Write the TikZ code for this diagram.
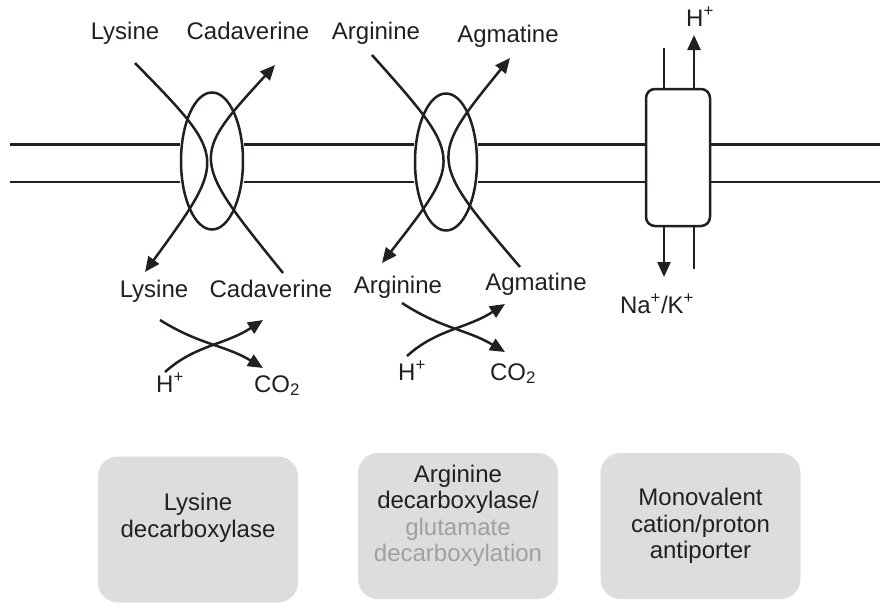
\documentclass[tikz,border=0pt]{standalone}
\usepackage{fontspec}
\setmainfont{Liberation Sans}
\usetikzlibrary{arrows.meta,shapes.geometric}
\definecolor{ink}{HTML}{231F20}
\definecolor{boxgray}{HTML}{DCDDDF}
\definecolor{softtext}{HTML}{A0A0A0}
\begin{document}
\begin{tikzpicture}[x=1pt,y=-1pt,line width=2.5pt,draw=ink,
  lbl/.style={font=\fontsize{24}{28}\selectfont,text=ink,anchor=base,inner sep=0pt},
  arr/.style={-{Triangle[length=15pt,width=13pt]}},
  mem/.style={line width=2.3pt},
  channel/.style={draw,ellipse,minimum width=62pt,minimum height=137pt,inner sep=0pt},
  antiport/.style={draw,rounded corners=9pt,minimum width=64pt,minimum height=137pt,inner sep=0pt},
  card/.style={fill=boxgray,rounded corners=20pt,minimum width=200pt,minimum height=146pt,inner sep=0pt},
  cardtext/.style={align=center,text=ink,font=\fontsize{24}{26.5}\selectfont,inner sep=0pt}]
\useasboundingbox (0,0) rectangle (892,614);

% membrane proteins
\node[channel] (ch1) at (212,161) {};
\node[channel] (ch2) at (446,162) {};
\node[antiport] (ap) at (678,157.5) {};

% membrane lines
\coordinate (yt) at (0,144.5);
\coordinate (yb) at (0,182);
\coordinate (ml) at (10,0);
\coordinate (mr) at (880,0);
\draw[mem] (ml |- yt) -- (ch1.west |- yt);
\draw[mem] (ml |- yb) -- (ch1.west |- yb);
\draw[mem] (ch1.east |- yt) -- (ch2.west |- yt);
\draw[mem] (ch1.east |- yb) -- (ch2.west |- yb);
\draw[mem] (ch2.east |- yt) -- (ap.west |- yt);
\draw[mem] (ch2.east |- yb) -- (ap.west |- yb);
\draw[mem] (ap.east |- yt) -- (mr |- yt);
\draw[mem] (ap.east |- yb) -- (mr |- yb);

% labels around channels
\node[lbl] (lysT) at (125,39) {Lysine};
\node[lbl] (cadT) at (248,39) {Cadaverine};
\node[lbl] (argT) at (376,39) {Arginine};
\node[lbl] (agmT) at (508,42) {Agmatine};
\node[lbl] (lysB) at (154,297) {Lysine};
\node[lbl] (cadB) at (271,297) {Cadaverine};
\node[lbl] (argB) at (398,293) {Arginine};
\node[lbl] (agmB) at (536,290) {Agmatine};

% curve end points
\coordinate (lysS) at (135,63);
\coordinate (lysE) at (145,272);
\coordinate (cadS) at (283,273);
\coordinate (cadE) at (275,65);
\coordinate (argS) at (372,55);
\coordinate (argE) at (382,263);
\coordinate (agmS) at (520,267);
\coordinate (agmE) at (510,58);

\draw[arr] (lysS) .. controls (228,158) .. (lysE);
\draw[arr] (cadS) .. controls (190,158) .. (cadE);
\draw[arr] (argS) .. controls (464,158) .. (argE);
\draw[arr] (agmS) .. controls (428,159) .. (agmE);

% antiporter
\node[lbl] (hT) at (700,26) {H\textsuperscript{+}};
\node[lbl] (naB) at (657,313) {Na\textsuperscript{+}/K\textsuperscript{+}};
\coordinate (hin) at (664,48);
\coordinate (hout) at (694,35);
\coordinate (naout) at (664,277);
\coordinate (nain) at (694,269);
\draw (hin) -- (hin |- ap.north);
\draw[arr] (hout |- ap.north) -- (hout);
\draw[arr] (naout |- ap.south) -- (naout);
\draw (nain) -- (nain |- ap.south);

% decarboxylation reactions
\node[lbl] (h1) at (170,392) {H\textsuperscript{+}};
\node[lbl] (co1) at (277,392) {CO\textsubscript{2}};
\node[lbl] (h2) at (412,380) {H\textsuperscript{+}};
\node[lbl] (co2) at (513,380) {CO\textsubscript{2}};
\coordinate (r1a) at (160,320);
\coordinate (r1b) at (263,368);
\coordinate (r1c) at (165,372);
\coordinate (r1d) at (263,320);
\coordinate (r2a) at (402,303);
\coordinate (r2b) at (505,352);
\coordinate (r2c) at (407,356);
\coordinate (r2d) at (505,304);
\draw[arr] (r1a) .. controls (200,345) and (225,345) .. (r1b);
\draw[arr] (r1c) .. controls (195,345) and (225,345) .. (r1d);
\draw[arr] (r2a) .. controls (442,329) and (466,329) .. (r2b);
\draw[arr] (r2c) .. controls (437,329) and (466,329) .. (r2d);

% summary cards
\node[card] (c1) at (198,529.5) {};
\node[card] (c2) at (458,526) {};
\node[card] (c3) at (700.5,526) {};
\node[cardtext] (t1) at (198,518) {Lysine\\decarboxylase};
\node[cardtext] (t2) at (458,516) {Arginine\\decarboxylase/\\\textcolor{softtext}{glutamate}\\\textcolor{softtext}{decarboxylation}};
\node[cardtext] (t3) at (700.5,526) {Monovalent\\cation/proton\\antiporter};
\end{tikzpicture}
\end{document}
